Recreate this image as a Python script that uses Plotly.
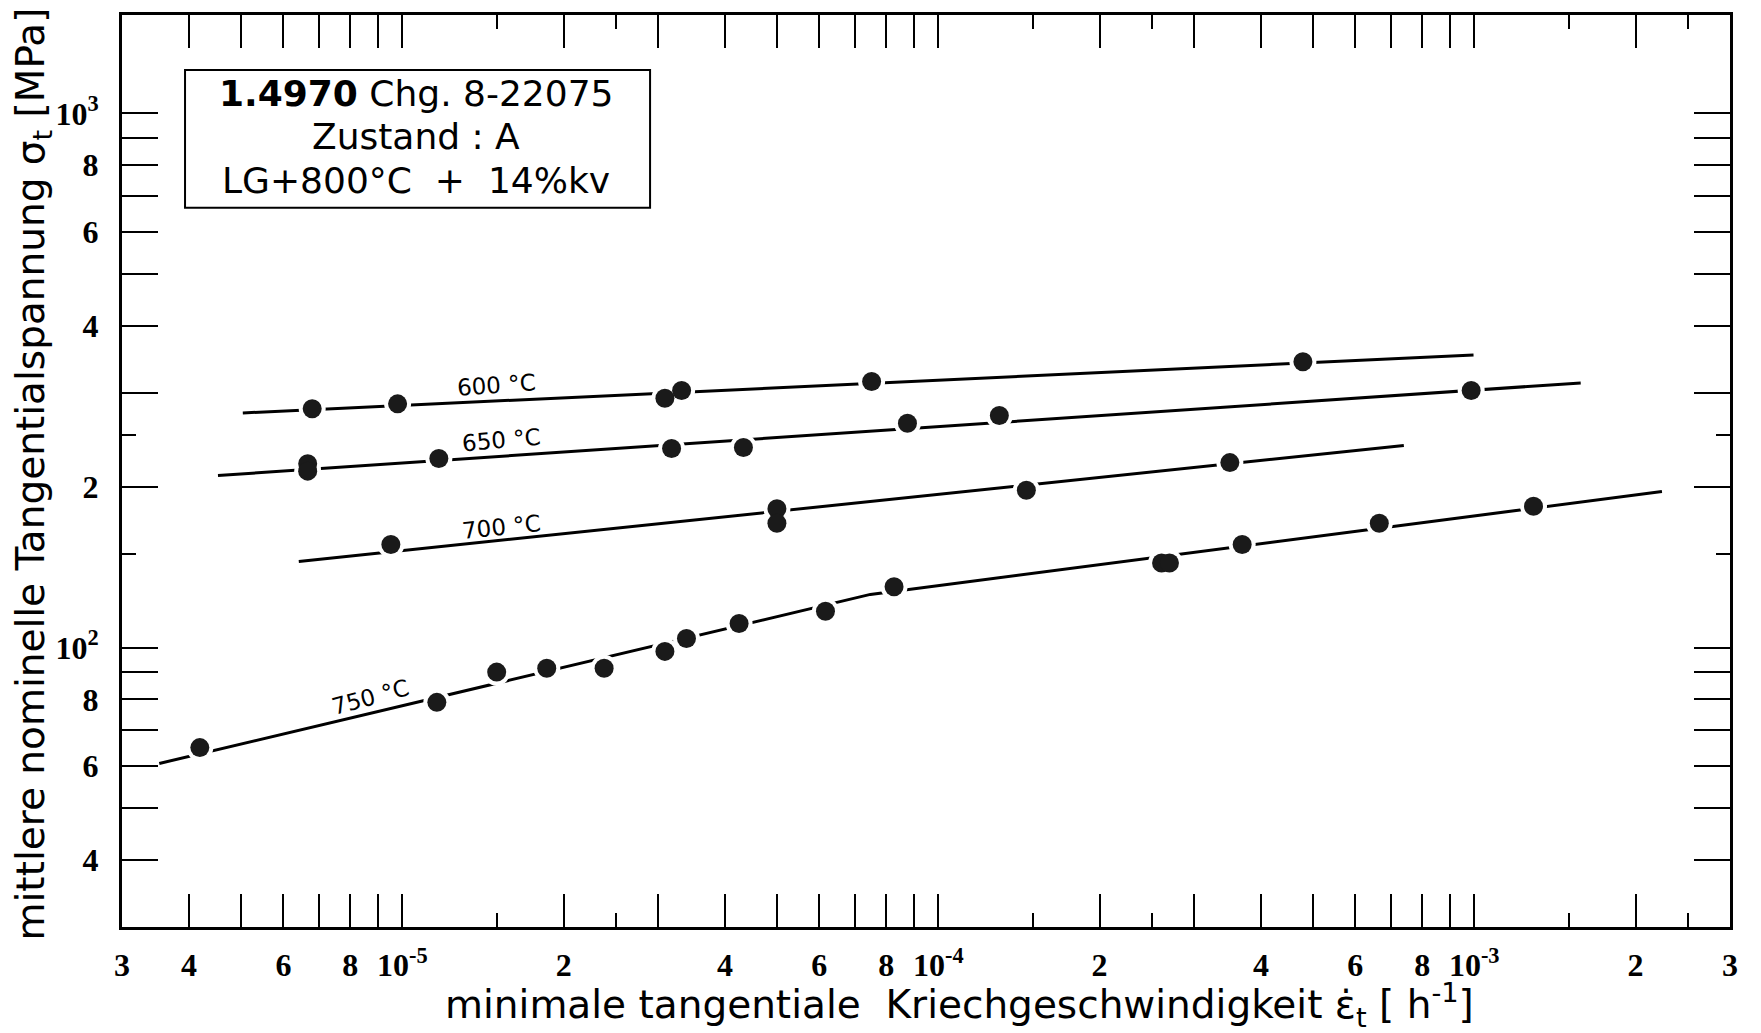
import numpy as np
import plotly.graph_objects as go

# Minimum creep rate vs. mean nominal tangential stress, 1.4970 Chg. 8-22075
rate_600 = [6.79e-6, 9.80e-6, 3.09e-5, 3.32e-5, 7.51e-5, 4.79e-4]
stress_600 = [280, 286, 293, 303, 315, 343]

rate_650 = [6.66e-6, 6.66e-6, 1.17e-5, 3.18e-5, 4.33e-5, 8.76e-5, 1.30e-4, 9.87e-4]
stress_650 = [221, 214, 226, 236, 237, 263, 272, 303]

rate_700 = [9.52e-6, 5.00e-5, 5.00e-5, 1.46e-4, 3.50e-4]
stress_700 = [156, 182, 171, 197, 222]

rate_750 = [4.19e-6, 1.16e-5, 1.50e-5, 1.86e-5, 2.38e-5, 3.09e-5, 3.39e-5,
            4.25e-5, 6.16e-5, 8.27e-5, 2.61e-4, 2.70e-4, 3.69e-4, 6.65e-4, 1.29e-3]
stress_750 = [65, 79, 90, 91.5, 91.5, 98.4, 104, 111, 117, 130, 144, 144, 156, 171, 184]

# hand-drawn fit lines
fit_rate_600 = [5.04e-6, 9.97e-4]
fit_stress_600 = [275, 353]
fit_rate_650 = [4.53e-6, 1.58e-3]
fit_stress_650 = [210, 313]
fit_rate_700 = [6.41e-6, 7.39e-4]
fit_stress_700 = [145, 239]
fit_rate_750 = [3.52e-6, 7.47e-5, 2.24e-3]
fit_stress_750 = [60.7, 125.8, 196]

# curve labels: text, rate, stress, angle
curve_labels = [
    ("600 °C", 1.50e-5, 310, -4),
    ("650 °C", 1.53e-5, 245, -5),
    ("700 °C", 1.53e-5, 168, -6),
    ("750 °C", 8.73e-6, 81, -15),
]

# axis ticks
x_major = [4e-6, 5e-6, 6e-6, 7e-6, 8e-6, 9e-6, 1e-5, 2e-5, 3e-5, 4e-5, 5e-5, 6e-5, 7e-5,
           8e-5, 9e-5, 1e-4, 2e-4, 3e-4, 4e-4, 5e-4, 6e-4, 7e-4, 8e-4, 9e-4, 1e-3, 2e-3]
x_labels = {3e-6: "3", 4e-6: "4", 6e-6: "6", 8e-6: "8", 1e-5: "10<sup>-5</sup>",
            2e-5: "2", 4e-5: "4", 6e-5: "6", 8e-5: "8", 1e-4: "10<sup>-4</sup>",
            2e-4: "2", 4e-4: "4", 6e-4: "6", 8e-4: "8", 1e-3: "10<sup>-3</sup>",
            2e-3: "2", 3e-3: "3"}
x_minor = [1.5e-5, 2.5e-5, 1.5e-4, 2.5e-4, 1.5e-3, 2.5e-3]

y_major = [40, 50, 60, 70, 80, 90, 100, 200, 300, 400, 500, 600, 700, 800, 900, 1000]
y_labels = {40: "4", 60: "6", 80: "8", 100: "10<sup>2</sup>", 200: "2", 400: "4",
            600: "6", 800: "8", 1000: "10<sup>3</sup>"}
y_minor = [150, 250]

x_ticks = sorted(set(x_major) | {3e-6, 3e-3})
y_ticks = y_major

fig = go.Figure()

fits = [(fit_rate_600, fit_stress_600), (fit_rate_650, fit_stress_650),
        (fit_rate_700, fit_stress_700), (fit_rate_750, fit_stress_750)]
for fr, fs in fits:
    fig.add_trace(go.Scatter(x=fr, y=fs, mode="lines",
                             line=dict(color="black", width=3), hoverinfo="skip"))

series = [(rate_600, stress_600), (rate_650, stress_650),
          (rate_700, stress_700), (rate_750, stress_750)]
# white halo opens a gap in the fit line around each point
for r, s in series:
    fig.add_trace(go.Scatter(x=r, y=s, mode="markers",
                             marker=dict(color="white", size=27, line=dict(width=0)),
                             hoverinfo="skip"))
for r, s in series:
    fig.add_trace(go.Scatter(x=r, y=s, mode="markers",
                             marker=dict(color="#1a1a1a", size=19, line=dict(width=0))))

for text, r, s, ang in curve_labels:
    fig.add_annotation(x=np.log10(r), y=np.log10(s), xref="x", yref="y", text=text,
                       showarrow=False, textangle=ang,
                       font=dict(family="DejaVu Sans", size=23, color="black"))

# info box
fig.add_shape(type="rect", xref="paper", yref="paper", x0=0.0392, x1=0.3284,
              y0=0.7887, y1=0.9396, line=dict(color="black", width=2),
              fillcolor="white", layer="above")
box_lines = [("<b>1.4970</b> Chg. 8-22075", 0.914),
             ("Zustand : A", 0.867),
             ("LG+800°C  +  14%kv", 0.819)]
for text, yy in box_lines:
    fig.add_annotation(x=0.1828, y=yy, xref="paper", yref="paper", text=text,
                       showarrow=False, xanchor="center", yanchor="middle",
                       font=dict(family="DejaVu Sans", size=36, color="black"))

# axis titles
fig.add_annotation(x=0.5211, y=-0.085, xref="paper", yref="paper",
                   text="minimale tangentiale  Kriechgeschwindigkeit ε̇<sub>t</sub> [ h<sup>-1</sup>]",
                   showarrow=False, xanchor="center", yanchor="middle",
                   font=dict(family="DejaVu Sans", size=39, color="black"))
fig.add_annotation(x=-0.0555, y=0.497, xref="paper", yref="paper",
                   text="mittlere nominelle Tangentialspannung σ<sub>t</sub> [MPa]",
                   showarrow=False, xanchor="center", yanchor="middle", textangle=-90,
                   font=dict(family="DejaVu Sans", size=39, color="black"))

tickfont = dict(family="Liberation Serif", size=32, color="black", weight="bold")

fig.update_xaxes(
    type="log", range=[np.log10(3e-6) - 1e-4, np.log10(3e-3) + 1e-4],
    showline=True, linewidth=3, linecolor="black", mirror="ticks",
    ticks="inside", ticklen=33, tickwidth=2, tickcolor="black",
    tickvals=x_ticks, ticktext=[x_labels.get(v, "") for v in x_ticks],
    tickfont=tickfont, ticklabelstandoff=8,
    minor=dict(tickvals=x_minor, ticks="inside", ticklen=14, tickwidth=2, tickcolor="black"),
    showgrid=False, zeroline=False,
)
fig.update_yaxes(
    type="log", range=[np.log10(30), np.log10(30) + 915 / 536],
    showline=True, linewidth=3, linecolor="black", mirror="ticks",
    ticks="inside", ticklen=36, tickwidth=2, tickcolor="black",
    tickvals=y_ticks, ticktext=[y_labels.get(v, "") for v in y_ticks],
    tickfont=tickfont, ticklabelstandoff=14,
    minor=dict(tickvals=y_minor, ticks="inside", ticklen=14, tickwidth=2, tickcolor="black"),
    showgrid=False, zeroline=False,
)

fig.update_layout(
    width=1761, height=1033,
    margin=dict(l=122, r=31, t=12, b=106),
    paper_bgcolor="white", plot_bgcolor="white",
    showlegend=False,
)

fig.write_html("out.html")
